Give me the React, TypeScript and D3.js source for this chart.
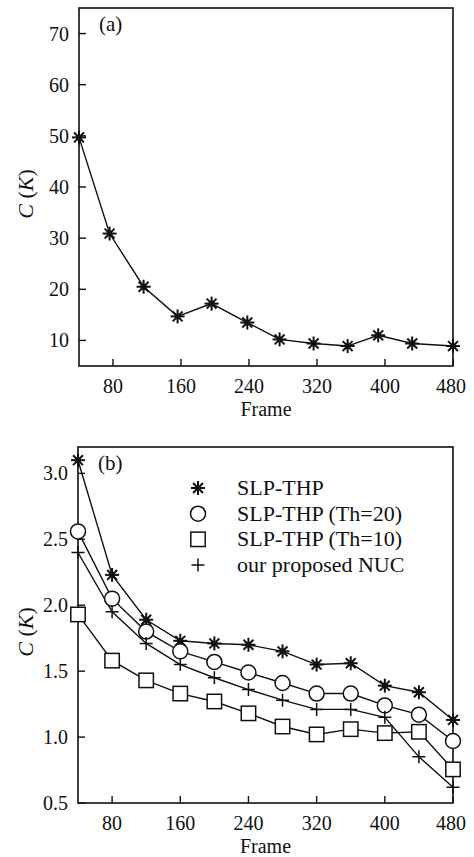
import { useEffect, useRef } from "react";
import * as d3 from "d3";

// panel (a): single method
const framesA = [40, 76, 116, 156, 196, 238, 276, 316, 356, 392, 432, 480];
const valuesA = [49.7, 30.9, 20.5, 14.7, 17.2, 13.5, 10.2, 9.4, 8.9, 11.0, 9.4, 8.9];

// panel (b): four methods
const framesB = [40, 80, 120, 160, 200, 240, 280, 320, 360, 400, 440, 480];
const slpThp = [3.1, 2.23, 1.89, 1.73, 1.71, 1.7, 1.65, 1.55, 1.56, 1.39, 1.34, 1.13];
const slpThp20 = [2.56, 2.05, 1.8, 1.65, 1.57, 1.49, 1.41, 1.33, 1.33, 1.24, 1.17, 0.97];
const slpThp10 = [1.93, 1.58, 1.43, 1.33, 1.27, 1.18, 1.08, 1.02, 1.06, 1.03, 1.04, 0.755];
const nuc = [2.4, 1.95, 1.71, 1.55, 1.45, 1.36, 1.28, 1.21, 1.21, 1.15, 0.85, 0.62];

const xTicks = [80, 160, 240, 320, 400, 480];
const yTicksA = [10, 20, 30, 40, 50, 60, 70];
const yTicksB = [0.5, 1.0, 1.5, 2.0, 2.5, 3.0];

const legendLabels = [
  "SLP-THP",
  "SLP-THP (Th=20)",
  "SLP-THP (Th=10)",
  "our proposed NUC",
];

const FONT = "Liberation Serif, Tinos, Times New Roman, DejaVu Serif, serif";

type Marker = "asterisk" | "circle" | "square" | "plus";

function drawMarker(g: any, type: Marker, x: number, y: number) {
  if (type === "asterisk") {
    const r = 7;
    const a = g.append("g").attr("transform", `translate(${x},${y})`);
    [0, 45, 90, 135].forEach((ang) => {
      const t = (ang * Math.PI) / 180;
      a.append("line")
        .attr("x1", -r * Math.cos(t))
        .attr("y1", -r * Math.sin(t))
        .attr("x2", r * Math.cos(t))
        .attr("y2", r * Math.sin(t))
        .attr("stroke", "#111")
        .attr("stroke-width", 2);
    });
    a.append("circle").attr("r", 3).attr("fill", "#111");
  } else if (type === "circle") {
    g.append("circle")
      .attr("cx", x)
      .attr("cy", y)
      .attr("r", 7.5)
      .attr("fill", "#fff")
      .attr("stroke", "#111")
      .attr("stroke-width", 1.5);
  } else if (type === "square") {
    g.append("rect")
      .attr("x", x - 7.2)
      .attr("y", y - 7.2)
      .attr("width", 14.4)
      .attr("height", 14.4)
      .attr("fill", "#fff")
      .attr("stroke", "#111")
      .attr("stroke-width", 1.5);
  } else {
    const r = 6.5;
    g.append("path")
      .attr("d", `M${x - r},${y}H${x + r}M${x},${y - r}V${y + r}`)
      .attr("stroke", "#111")
      .attr("stroke-width", 1.5)
      .attr("fill", "none");
  }
}

function drawPanel(
  svg: any,
  box: { left: number; right: number; top: number; bottom: number },
  yDomain: [number, number],
  yTicks: number[],
  yFormat: (v: number) => string,
  series: { frames: number[]; values: number[]; marker: Marker }[],
  tag: string
) {
  const x = d3.scaleLinear().domain([40, 480]).range([box.left, box.right]);
  const y = d3.scaleLinear().domain(yDomain).range([box.bottom, box.top]);
  const g = svg.append("g");

  // frame
  g.append("rect")
    .attr("x", box.left)
    .attr("y", box.top)
    .attr("width", box.right - box.left)
    .attr("height", box.bottom - box.top)
    .attr("fill", "none")
    .attr("stroke", "#111")
    .attr("stroke-width", 1.6);

  // x ticks (inward)
  xTicks.forEach((t) => {
    g.append("line")
      .attr("x1", x(t))
      .attr("x2", x(t))
      .attr("y1", box.bottom)
      .attr("y2", box.bottom - 7)
      .attr("stroke", "#111")
      .attr("stroke-width", 1.4);
    g.append("text")
      .attr("x", x(t) - (t === 480 ? 2 : 0))
      .attr("y", box.bottom + 27)
      .attr("text-anchor", "middle")
      .attr("font-family", FONT)
      .attr("font-size", 20)
      .attr("fill", "#111")
      .text(t);
  });

  // y ticks (inward)
  yTicks.forEach((t) => {
    g.append("line")
      .attr("x1", box.left)
      .attr("x2", box.left + 7)
      .attr("y1", y(t))
      .attr("y2", y(t))
      .attr("stroke", "#111")
      .attr("stroke-width", 1.4);
    g.append("text")
      .attr("x", box.left - 10)
      .attr("y", y(t) + 7)
      .attr("text-anchor", "end")
      .attr("font-family", FONT)
      .attr("font-size", 20)
      .attr("fill", "#111")
      .text(yFormat(t));
  });

  // axis titles
  g.append("text")
    .attr("x", (box.left + box.right) / 2)
    .attr("y", box.bottom + 49.5)
    .attr("text-anchor", "middle")
    .attr("font-family", FONT)
    .attr("font-size", 20)
    .attr("fill", "#111")
    .text("Frame");

  const yl = g
    .append("text")
    .attr(
      "transform",
      `translate(33,${(box.top + box.bottom) / 2 + 7}) rotate(-90)`
    )
    .attr("text-anchor", "middle")
    .attr("font-family", FONT)
    .attr("font-size", 22)
    .attr("fill", "#111");
  yl.append("tspan").attr("font-style", "italic").text("C");
  yl.append("tspan").text(" (");
  yl.append("tspan").attr("font-style", "italic").text("K");
  yl.append("tspan").text(")");

  g.append("text")
    .attr("x", box.left + 20)
    .attr("y", box.top + 23)
    .attr("font-family", FONT)
    .attr("font-size", 21)
    .attr("fill", "#111")
    .text(tag);

  const lg = d3
    .line<[number, number]>()
    .x((d) => x(d[0]))
    .y((d) => y(d[1]));

  series.forEach((s) => {
    g.append("path")
      .attr("d", lg(s.frames.map((f, i) => [f, s.values[i]] as [number, number])))
      .attr("fill", "none")
      .attr("stroke", "#111")
      .attr("stroke-width", 1.4);
  });

  series.forEach((s) => {
    s.frames.forEach((f, i) => drawMarker(g, s.marker, x(f), y(s.values[i])));
  });

  return { x, y, g };
}

export default function App() {
  const svgRef = useRef<SVGSVGElement>(null);

  useEffect(() => {
    const svg = d3.select(svgRef.current);
    svg.selectAll("*").remove();

    drawPanel(
      svg,
      { left: 79, right: 453, top: 8, bottom: 366 },
      [5, 75],
      yTicksA,
      (v) => String(v),
      [{ frames: framesA, values: valuesA, marker: "asterisk" }],
      "(a)"
    );

    const markers: Marker[] = ["asterisk", "circle", "square", "plus"];
    const { g } = drawPanel(
      svg,
      { left: 78, right: 453, top: 447, bottom: 803 },
      [0.5, 3.2],
      yTicksB,
      (v) => v.toFixed(1),
      [
        { frames: framesB, values: slpThp, marker: "asterisk" },
        { frames: framesB, values: slpThp20, marker: "circle" },
        { frames: framesB, values: slpThp10, marker: "square" },
        { frames: framesB, values: nuc, marker: "plus" },
      ],
      "(b)"
    );

    // legend
    const legendY = d3
      .scalePoint<string>()
      .domain(legendLabels)
      .range([488, 565]);
    legendLabels.forEach((lab, i) => {
      const ly = legendY(lab) as number;
      drawMarker(g, markers[i], 198, ly);
      g.append("text")
        .attr("x", 237)
        .attr("y", ly + 7)
        .attr("font-family", FONT)
        .attr("font-size", 22)
        .attr("fill", "#111")
        .text(lab);
    });
  }, []);

  return (
    <svg
      ref={svgRef}
      width={474}
      height={857}
      style={{ position: "absolute", left: 0, top: 0, background: "#fff" }}
    ></svg>
  );
}
